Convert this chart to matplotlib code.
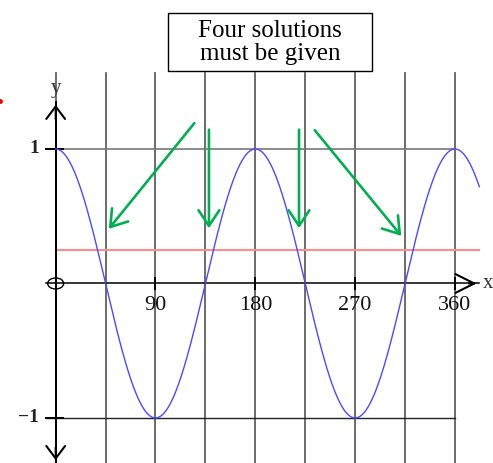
import numpy as np
import matplotlib.pyplot as plt
from matplotlib.patches import FancyArrowPatch, Ellipse, Rectangle

# data
x_ticks = [90, 180, 270, 360]
x_tick_labels = ["90", "180", "270", "360"]
y_ticks = [1, -1]
y_tick_labels = ["1", "\u22121"]
grid_x = [0, 45, 90, 135, 180, 225, 270, 315, 360]
red_level = 0.25
x_end = 382
note = "Four solutions\nmust be given"
# arrows: (start x, start y, tip x, tip y)
arrows = [
    (126.6, 1.208, 46.3, 0.390),
    (138.2, 1.164, 138.2, 0.390),
    (219.4, 1.164, 219.4, 0.390),
    (232.0, 1.156, 313.2, 0.338),
]

xs = np.linspace(0, x_end, 800)
ys = np.cos(np.radians(2 * xs))

fig = plt.figure(figsize=(4.93, 4.63), dpi=100)
ax = fig.add_axes([0, 0, 1, 1])
ax.set_xlim(-50.2, 394.3)
ax.set_ylim(-1.335, 2.108)
ax.axis("off")

serif = "Liberation Serif"
top = 1.565

# vertical grid lines
for gx in grid_x:
    ax.plot([gx, gx], [-1.34, top], color="#606060", lw=1.3, zorder=1)

# horizontal lines at +-1
ax.plot([-8.7, 360], [1, 1], color="#777777", lw=1.2, zorder=1)
ax.plot([-8.7, 360], [-1, -1], color="#222222", lw=1.0, zorder=1)

# axes
ax.plot([-8.7, 382], [0, 0], color="black", lw=1.1, zorder=3)
ax.plot([0, 0], [-1.34, 1.35], color="black", lw=1.4, zorder=3)
ax.add_patch(FancyArrowPatch((370, 0), (382, 0), arrowstyle="->,head_length=0.9,head_width=0.45",
                             mutation_scale=15, color="black", lw=1.5, zorder=3))
ax.add_patch(FancyArrowPatch((0, 1.2), (0, 1.35), arrowstyle="->,head_length=0.6,head_width=0.45",
                             mutation_scale=15, color="black", lw=1.5, zorder=3))
ax.add_patch(FancyArrowPatch((0, -1.2), (0, -1.335), arrowstyle="->,head_length=0.6,head_width=0.45",
                             mutation_scale=15, color="black", lw=1.5, zorder=3, clip_on=False))
ax.add_patch(Ellipse((0, 0), 14.4, 0.082, fill=False, ec="black", lw=1.0, zorder=3))
ax.text(0, 1.45, "y", family=serif, fontsize=15, ha="center", va="center", color="#333333")
ax.text(389.5, 0, "x", family=serif, fontsize=15, ha="center", va="center", color="#333333")

# ticks
for tx, lab in zip(x_ticks, x_tick_labels):
    ax.plot([tx, tx], [-0.04, 0.04], color="black", lw=1.4, zorder=3)
    ax.text(tx, -0.165, lab, family=serif, fontsize=16, ha="center", va="center", color="#111111")
for ty, lab in zip(y_ticks, y_tick_labels):
    ax.plot([-8.7, 6.5], [ty, ty], color="black", lw=1.4, zorder=3)
    ax.text(-15, ty, lab, family=serif, fontsize=14, ha="right", va="center", weight="bold",
            color="#222222")

# curve and level line
ax.plot([0, x_end], [red_level, red_level], color="#ff8c8c", lw=1.5, zorder=2)
ax.plot(xs, ys, color="#4a4aff", lw=1.0, zorder=4)

# green arrows
for sx, sy, ex, ey in arrows:
    ax.add_patch(FancyArrowPatch((sx, sy), (ex, ey), arrowstyle="->,head_length=0.75,head_width=0.5",
                                 mutation_scale=15, color="#00b050", lw=1.9, zorder=5))

# note box
ax.add_patch(Rectangle((101.3, 1.580), 184.0, 0.431, fill=True, fc="white", ec="black", lw=1.0, zorder=6))
ax.text(193.3, 1.795, note, family=serif, fontsize=18, ha="center", va="center",
        linespacing=1.05, zorder=7)

# stray red mark on the left edge
ax.plot([-50.2], [1.357], marker="o", ms=2.5, color="red", clip_on=True)

fig.savefig("out.png", dpi=100)
